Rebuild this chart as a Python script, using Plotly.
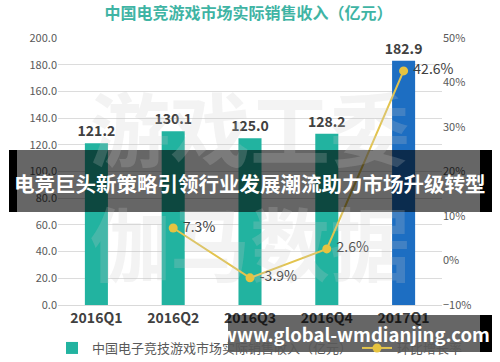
import plotly.graph_objects as go

categories = ["2016Q1", "2016Q2", "2016Q3", "2016Q4", "2017Q1"]
revenue = [121.2, 130.1, 125.0, 128.2, 182.9]
growth = [None, 0.073, -0.039, 0.026, 0.426]
bar_colors = ["#22b3a0", "#22b3a0", "#22b3a0", "#22b3a0", "#1d6ec2"]
left_ticks = [0, 20, 40, 60, 80, 100, 120, 140, 160, 180, 200]
right_ticks = [-0.1, 0, 0.1, 0.2, 0.3, 0.4, 0.5]

title_text = "中国电竞游戏市场实际销售收入（亿元）"
bar_name = "中国电子竞技游戏市场实际销售收入（亿元）"
line_name = "环比增长率"
banner_text = "电竞巨头新策略引领行业发展潮流助力市场升级转型"
url_text = "www.global-wmdianjing.com"
wm_row1 = "游戏工委"
wm_row2 = "伽马数据"

W, H = 500, 362
L, R, T, B = 58, 58, 38, 57
PW, PH = W - L - R, H - T - B

def px(x):
    return (x - L) / PW

def py(y):
    return (H - B - y) / PH

FONT = "Noto Sans CJK SC, Noto Sans, sans-serif"

fig = go.Figure()
fig.add_trace(go.Bar(
    x=categories, y=revenue, name=bar_name,
    marker=dict(color=bar_colors, line=dict(width=0)),
    text=[f"{v:.1f}" for v in revenue], textposition="outside",
    constraintext="none",
    textfont=dict(family=FONT, size=14, color="#404040", weight="bold"),
    cliponaxis=False, width=0.3,
))
fig.add_trace(go.Scatter(
    x=categories, y=growth, name=line_name, yaxis="y2",
    mode="lines+markers+text",
    line=dict(color="#e3c44e", width=2),
    marker=dict(color="#e6c340", size=9),
    text=[(" " + f"{g*100:.1f}%") if g is not None else "" for g in growth],
    textposition="middle right",
    textfont=dict(family=FONT, size=14, color="#404040"),
    cliponaxis=False,
))

fig.update_layout(
    width=W, height=H,
    margin=dict(l=L, r=R, t=T, b=B, autoexpand=False),
    paper_bgcolor="white", plot_bgcolor="white",
    font=dict(family=FONT, color="#595959"),
    title=dict(text=title_text, x=0.496, xref="paper", xanchor="center",
               y=1 - 13 / H, yanchor="middle", yref="container",
               font=dict(family=FONT, size=16, color="#3fb4a4", weight="bold")),
    showlegend=True,
    legend=dict(orientation="h", x=px(52), xref="paper", xanchor="left",
                y=py(348), yref="paper", yanchor="middle",
                font=dict(family=FONT, size=13, color="#595959"),
                itemwidth=30, tracegroupgap=0, bgcolor="rgba(0,0,0,0)"),
    xaxis=dict(showline=True, linecolor="#d9d9d9", ticks="", showgrid=False,
               tickfont=dict(family=FONT, size=14, color="#404040", weight="bold")),
    yaxis=dict(range=[0, 200], tickvals=left_ticks, tickformat=".1f",
               showgrid=True, gridcolor="#dcdcdc", zeroline=False,
               tickfont=dict(family=FONT, size=11, color="#595959")),
    yaxis2=dict(range=[-0.1, 0.5], tickvals=right_ticks, tickformat=".0%",
                overlaying="y", side="right", showgrid=False, zeroline=False,
                tickfont=dict(family=FONT, size=11, color="#595959")),
    bargap=0.7,
)

# faint background watermark
for txt, yc in [(wm_row1, 125), (wm_row2, 240)]:
    fig.add_annotation(text=txt, x=px(250), y=py(yc), xref="paper", yref="paper",
                       showarrow=False, xanchor="center", yanchor="middle",
                       font=dict(family=FONT, size=80, color="rgba(200,200,200,0.22)", weight="bold"))

shapes = [
    (17, 150, 480, 212, "rgba(0,0,0,0.6)"),
    (9, 150, 17, 212, "black"),
    (480, 150, 492, 212, "black"),
    (228, 315, 480, 352, "rgba(0,0,0,0.6)"),
    (480, 315, 492, 352, "black"),
]
for x0, y0, x1, y1, c in shapes:
    fig.add_shape(type="rect", xref="paper", yref="paper",
                  x0=px(x0), x1=px(x1), y0=py(y0), y1=py(y1),
                  fillcolor=c, line=dict(width=0), layer="above")

fig.add_annotation(text=banner_text, x=px(250), y=py(183), xref="paper", yref="paper",
                   showarrow=False, xanchor="center", yanchor="middle",
                   font=dict(family=FONT, size=20.5, color="white", weight="bold"))
fig.add_annotation(text=url_text, x=px(355), y=py(334), xref="paper", yref="paper",
                   showarrow=False, xanchor="center", yanchor="middle",
                   font=dict(family=FONT, size=18.5, color="white", weight="bold"))

fig.write_html("out.html", config={"displayModeBar": False},
               post_script="document.body.style.margin='0';document.body.style.overflow='hidden';")
